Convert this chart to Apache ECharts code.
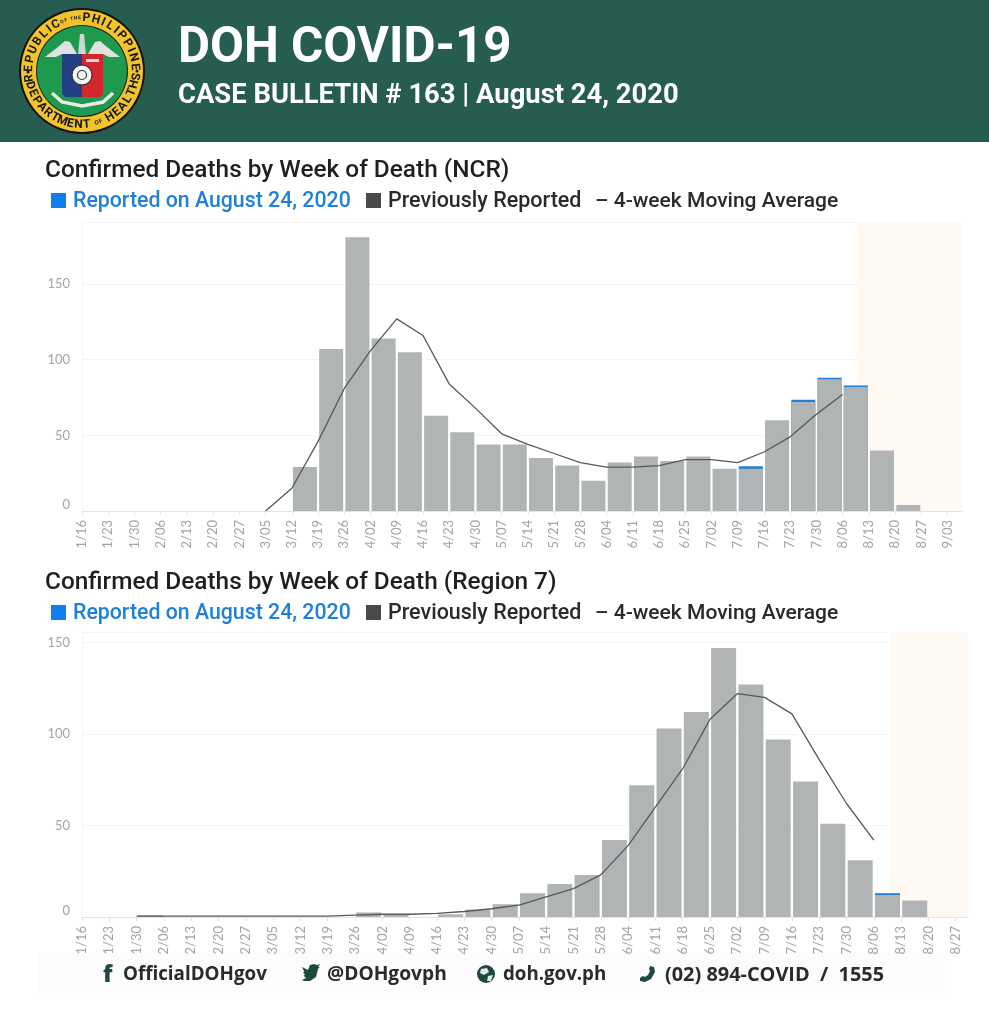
<!DOCTYPE html>
<html><head><meta charset="utf-8">
<script src="https://cdn.jsdelivr.net/npm/echarts@6/dist/echarts.min.js"></script>
<style>html,body{margin:0;padding:0;background:#fff}#c{width:989px;height:1024px}</style>
</head><body><div id="c"></div>
<script>
const weeksNcr = ['1/16','1/23','1/30','2/06','2/13','2/20','2/27','3/05','3/12','3/19','3/26','4/02','4/09','4/16','4/23','4/30','5/07','5/14','5/21','5/28','6/04','6/11','6/18','6/25','7/02','7/09','7/16','7/23','7/30','8/06','8/13','8/20','8/27','9/03'];
const prevNcr =   [0,0,0,0,0,0,0,0,29,107,181,114,105,63,52,44,44,35,30,20,32,36,33,36,28,28,60,72,87,82,40,4,0,0];
const newNcr =    [0,0,0,0,0,0,0,0,0,0,0,0,0,0,0,0,0,0,0,0,0,0,0,0,0,1.5,0,1.5,1,1,0,0,0,0];
const avgNcr =    [null,null,null,null,null,null,null,0,15,46,81,106,127,116,84,68,51,44,38,32,29,29,30,34,34,32,39,49,64,77,null,null,null,null];

const weeksR7 = ['1/16','1/23','1/30','2/06','2/13','2/20','2/27','3/05','3/12','3/19','3/26','4/02','4/09','4/16','4/23','4/30','5/07','5/14','5/21','5/28','6/04','6/11','6/18','6/25','7/02','7/09','7/16','7/23','7/30','8/06','8/13','8/20','8/27'];
const prevR7 = [0,0,1,0,0,0,0,0,0,0,2.5,1.5,0,1.5,4,7,13,18,23,42,72,103,112,147,127,97,74,51,31,12,9,0,0];
const newR7 =  [0,0,0,0,0,0,0,0,0,0,0,0,0,0,0,0,0,0,0,0,0,0,0,0,0,0,0,0,0,1,0,0,0];
const avgR7 =  [null,null,0.5,0.5,0.5,0.5,0.5,0.5,0.5,0.5,1,1.5,1.5,2,3,4.5,6.5,11,15.5,23,39,60,81,108,122,120,111,86,62,42,null,null,null];

const GREY='#b1b4b5', BLUE='#1f80d8', LINE='#55595a', SHADE='#fef9f3';
const mainTitleText='DOH COVID-19', subTitleText='CASE BULLETIN # 163 | August 24, 2020';
const titleNcr='Confirmed Deaths by Week of Death (NCR)', titleR7='Confirmed Deaths by Week of Death (Region 7)';
const legendTexts=['Reported on August 24, 2020','Previously Reported','– 4-week Moving Average'];

function pairs(arr,off){return arr.map((v,i)=>[i+off,v]);}
function xAxis(idx,max,weeks){return {type:'value',gridIndex:idx,min:0,max:max,interval:1,
  axisLine:{show:true,lineStyle:{color:'#e4e4e4',width:1}},
  axisTick:{show:true,length:4,lineStyle:{color:'#e2e2e2'}},splitLine:{show:false},
  axisLabel:{rotate:90,margin:9,fontFamily:'Lato',fontSize:13,color:'#a2a4a5',hideOverlap:false,
    showMinLabel:true,showMaxLabel:false,formatter:v=>Number.isInteger(v)?(weeks[v]||''):''}};}
function yAxis(idx,max){return {type:'value',gridIndex:idx,min:0,max:max,interval:50,
  axisLine:{show:true,lineStyle:{color:'#f8f6ee'}},axisTick:{show:false},
  splitLine:{show:true,lineStyle:{color:'#f4f4f4',width:1}},
  axisLabel:{margin:12,fontFamily:'Lato',fontSize:13,color:'#a2a4a5',showMaxLabel:false,
    verticalAlignMinLabel:'bottom',formatter:v=>Number.isInteger(v/50)?String(v):''}};}
function series(idx,prev,fresh,avg,shadeFrom,shadeTo,bw){
  const totals=prev.map((v,i)=>fresh[i]>0?v+fresh[i]:null);
  return [
  {type:'bar',xAxisIndex:idx,yAxisIndex:idx,barWidth:bw,barGap:'-100%',z:3,silent:true,data:pairs(totals,0.5),itemStyle:{color:BLUE},
   markArea:{silent:true,z:1,itemStyle:{color:SHADE},data:[[{xAxis:shadeFrom},{xAxis:shadeTo}]]}},
  {type:'bar',xAxisIndex:idx,yAxisIndex:idx,barWidth:bw,barGap:'-100%',z:4,silent:true,data:pairs(prev,0.5),itemStyle:{color:GREY}},
  {type:'line',xAxisIndex:idx,yAxisIndex:idx,z:5,silent:true,symbol:'none',data:pairs(avg,0),lineStyle:{color:LINE,width:1.3}}
];}

/* ---------- page furniture ---------- */
const g=[];
g.push({type:'rect',shape:{x:0,y:0,width:989,height:142},style:{fill:'#265d50'},z:0});
function txt(x,y,t,size,weight,fill,family){g.push({type:'text',x:x,y:y,z:10,style:{text:t,fontSize:size,fontWeight:weight,fill:fill,fontFamily:family||'Roboto',textAlign:'left',textVerticalAlign:'middle'}});}
txt(178,50,mainTitleText,49.3,700,'#fff');
txt(178,96,subTitleText,27.4,700,'#fff');
function header(y,t){
  txt(45,y+2,t,24.4,500,'#1f1f1f');
  g.push({type:'rect',z:10,shape:{x:51,y:y+24,width:15,height:15},style:{fill:'#0f7fee'}});
  txt(73,y+33,legendTexts[0],21.3,500,'#1f80d8');
  g.push({type:'rect',z:10,shape:{x:366,y:y+24,width:15,height:15},style:{fill:'#4a4a4a'}});
  txt(388,y+33,legendTexts[1],21.5,500,'#2a2a2a');
  txt(595,y+33,legendTexts[2],21,500,'#2a2a2a');
}
header(169,titleNcr); header(581,titleR7);

/* footer */
g.push({type:'rect',z:0,shape:{x:38,y:952,width:907,height:41},style:{fill:'#fcfcfc'}});
const F='#1d4a3c', FT='#2b2b2b';
txt(103,975,'f',23,900,F,'Open Sans');
txt(123,975,'OfficialDOHgov',18.8,700,FT,'Open Sans');
g.push({type:'polygon',z:10,shape:{points:[[302,967],[308,970],[310,965],[314,964],[317,965],[320,964],[318,967],[320,966.5],[318,969],[316,977],[310,981],[304,981],[302,980],[306,978],[303.5,975.5],[305,975],[303,972],[304.5,972]]},style:{fill:F}});
txt(327,975,'@DOHgovph',19.2,700,FT,'Open Sans');
g.push({type:'circle',z:10,shape:{cx:486,cy:974,r:9},style:{fill:F}});
g.push({type:'polygon',z:11,shape:{points:[[481,969],[487,968],[489,972],[484,975],[480,973]]},style:{fill:'#dfe8e4'}});
g.push({type:'polygon',z:11,shape:{points:[[488,976],[493,975],[491,981],[487,981]]},style:{fill:'#dfe8e4'}});
txt(503,975,'doh.gov.ph',18.7,700,FT,'Open Sans');
g.push({type:'polygon',z:10,shape:{points:[[650,966],[654,967],[655,972],[651,979],[645,982],[640,981],[640,978],[643,976],[645,977],[648,975],[650,971],[649,969]]},style:{fill:F}});
txt(665,975,'(02) 894-COVID  /  1555',19.9,700,FT,'Open Sans');

/* seal */
const cx=82,cy=71;
g.push({type:'circle',z:2,shape:{cx,cy,r:63},style:{fill:'#15130c'}});
g.push({type:'circle',z:2,shape:{cx,cy,r:61},style:{fill:'#f1c32e'}});
g.push({type:'circle',z:3,shape:{cx,cy,r:46},style:{fill:'#1f1f18'}});
g.push({type:'circle',z:3,shape:{cx,cy,r:45},style:{fill:'#1d9a4d'}});
g.push({type:'polygon',z:4,shape:{points:[[45,57],[58,47],[65,41],[70,42],[77,54],[62,54],[56,57]]},style:{fill:'#dfe3e0'}});
g.push({type:'polygon',z:4,shape:{points:[[120,57],[107,47],[100,41],[95,42],[88,54],[103,54],[109,57]]},style:{fill:'#dfe3e0'}});
g.push({type:'polygon',z:5,shape:{points:[[80,34],[84,34],[86,55],[78,55]]},style:{fill:'#cfd6cf'}});
g.push({type:'polygon',z:5,shape:{points:[[62,54],[82,54],[82,97],[65,97],[62,94]]},style:{fill:'#233f84'}});
g.push({type:'polygon',z:5,shape:{points:[[82,54],[103,54],[103,94],[100,97],[82,97]]},style:{fill:'#d2272d'}});
g.push({type:'rect',z:6,shape:{x:86,y:59,width:13,height:3},style:{fill:'#e9d9d9'}});
g.push({type:'circle',z:6,shape:{cx:82,cy:75,r:10},style:{fill:'#f2f4f2',stroke:'#222',lineWidth:1}});
g.push({type:'circle',z:7,shape:{cx:82,cy:75,r:4.5},style:{fill:'none',stroke:'#333',lineWidth:1.2}});
g.push({type:'polyline',z:5,shape:{points:[[52,93],[62,102],[82,106],[103,102],[113,93]]},style:{fill:'none',stroke:'#e9ece6',lineWidth:3.5}});
function arc(parts,a0,a1,R,bottom){
  const items=[];
  parts.forEach(([s,size])=>[...s].forEach(ch=>items.push({ch,size,adv:ch===' '?size*0.35:size*(ch==='I'?0.42:0.72)})));
  const total=items.reduce((a,b)=>a+b.adv,0);
  let pos=0;
  items.forEach(it=>{
    const t=(a0+(a1-a0)*(pos+it.adv/2)/total)*Math.PI/180;
    pos+=it.adv;
    if(it.ch===' ')return;
    g.push({type:'text',x:cx+R*Math.sin(t),y:cy-R*Math.cos(t),z:8,rotation:bottom?Math.PI-t:-t,style:{text:it.ch,fontSize:it.size,fontWeight:700,fill:'#171717',fontFamily:'Roboto',textAlign:'center',textVerticalAlign:'middle'}});
  });
}
arc([['REPUBLIC',12],['OF THE',5],['PHILIPPINES',12]],-103,101,53,false);
arc([['DEPARTMENT',12],[' ',12],['OF',6],[' ',12],['HEALTH',12]],259,100,54,true);
g.push({type:'circle',z:8,shape:{cx:28,cy:72,r:1.5},style:{fill:'#171717'}});
g.push({type:'circle',z:8,shape:{cx:137,cy:71,r:1.5},style:{fill:'#171717'}});

/* ---------- chart ---------- */
const chart=echarts.init(document.getElementById('c'),null,{renderer:'canvas'});
chart.setOption({
  animation:false,backgroundColor:'#fff',
  grid:[{left:82,top:222,width:880,height:289},{left:82,top:632,width:886,height:285}],
  xAxis:[xAxis(0,33.55,weeksNcr),xAxis(1,32.45,weeksR7)],
  yAxis:[yAxis(0,191),yAxis(1,155.7)],
  graphic:g,
  series:[...series(0,prevNcr,newNcr,avgNcr,29.55,33.55,24),...series(1,prevR7,newR7,avgR7,29.6,32.45,25)]
});
</script></body></html>
